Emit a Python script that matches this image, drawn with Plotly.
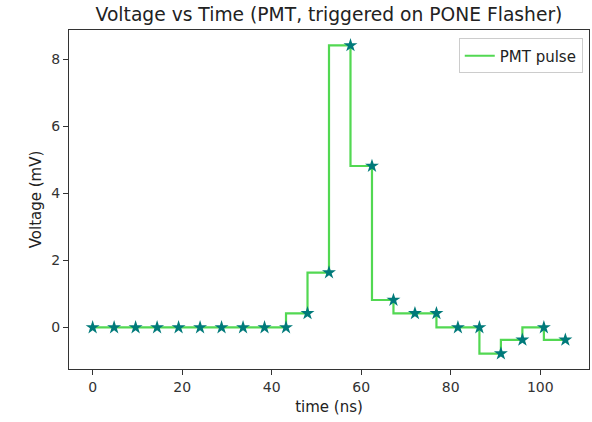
import plotly.graph_objects as go

time_ns = [0.0, 4.8, 9.6, 14.4, 19.2, 24.0, 28.8, 33.6, 38.4, 43.2, 48.0, 52.8,
           57.6, 62.4, 67.2, 72.0, 76.8, 81.6, 86.4, 91.2, 96.0, 100.8, 105.6]
voltage_mv = [0, 0, 0, 0, 0, 0, 0, 0, 0, 0, 0.42, 1.64,
              8.42, 4.82, 0.82, 0.42, 0.42, 0, 0, -0.78, -0.37, 0, -0.37]
x_ticks = [0, 20, 40, 60, 80, 100]
y_ticks = [0, 2, 4, 6, 8]

font = "DejaVu Sans"
fig = go.Figure()
fig.add_trace(go.Scatter(x=time_ns, y=voltage_mv, mode="lines", line_shape="vh",
                         line=dict(color="#52d852", width=2.2), name="PMT pulse"))
fig.add_trace(go.Scatter(x=time_ns, y=voltage_mv, mode="markers",
                         marker=dict(symbol="star", size=10.5, color="#007a7a"),
                         showlegend=False))

xmin, xmax = min(time_ns), max(time_ns)
ymin, ymax = min(voltage_mv), max(voltage_mv)
dx, dy = (xmax - xmin) * 0.05, (ymax - ymin) * 0.05

axis_common = dict(showgrid=False, zeroline=False, showline=True, mirror=True,
                   linecolor="#333333", linewidth=1, ticks="outside", ticklen=5,
                   tickcolor="#333333", tickfont=dict(family=font, size=14, color="#333333"))
fig.update_layout(
    width=592, height=422,
    margin=dict(l=69, r=3, t=30, b=53),
    paper_bgcolor="white", plot_bgcolor="white",
    title=dict(text="Voltage vs Time (PMT, triggered on PONE Flasher)",
               x=0.5, xanchor="center", xref="paper", y=0.965, yanchor="middle",
               font=dict(family=font, size=18.7, color="#222222")),
    xaxis=dict(range=[xmin - dx, xmax + dx], tickvals=x_ticks,
               title=dict(text="time (ns)", font=dict(family=font, size=15, color="#222222"), standoff=7),
               **axis_common),
    yaxis=dict(range=[ymin - dy, ymax + dy], tickvals=y_ticks,
               title=dict(text="Voltage (mV)", font=dict(family=font, size=15, color="#222222"), standoff=6),
               **axis_common),
    legend=dict(x=0.988, y=0.975, xanchor="right", yanchor="top",
                bordercolor="#cccccc", borderwidth=1, bgcolor="white",
                font=dict(family=font, size=15, color="#222222")),
    showlegend=True,
)
fig.write_html("out.html")
